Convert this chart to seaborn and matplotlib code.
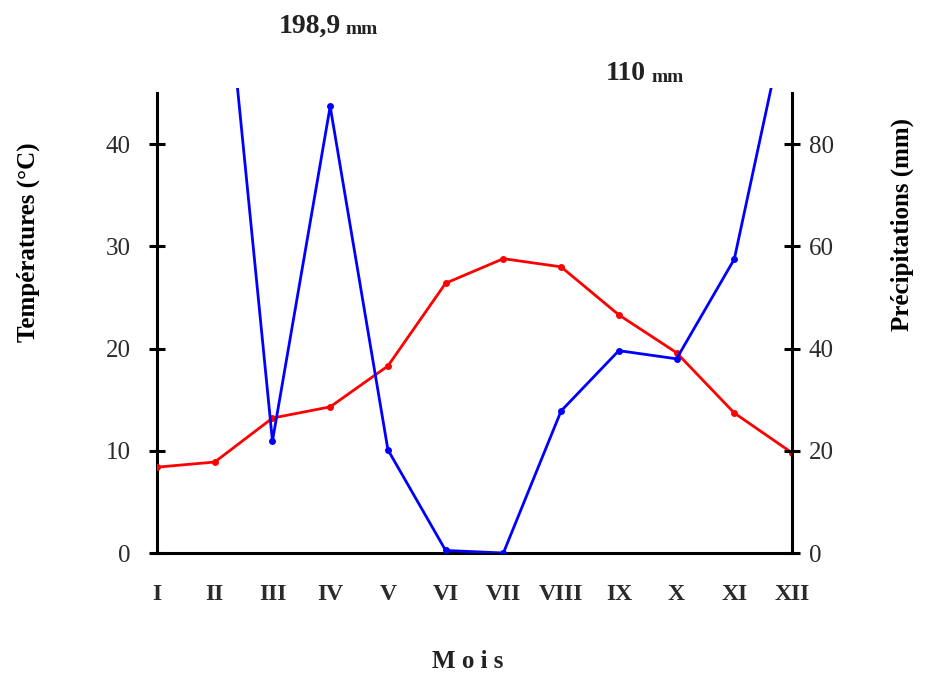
import matplotlib
matplotlib.use("Agg")
import matplotlib.pyplot as plt
import seaborn as sns
import pandas as pd

sns.set_style("white")
plt.rcParams["font.family"] = ["Liberation Serif", "DejaVu Serif"]

mois = ["I", "II", "III", "IV", "V", "VI", "VII", "VIII", "IX", "X", "XI", "XII"]
temperature = [8.4, 8.9, 13.2, 14.3, 18.3, 26.4, 28.8, 28.0, 23.3, 19.6, 13.7, 9.8]
precipitation = [198.9, 136.0, 21.9, 87.4, 20.2, 0.5, 0.0, 27.8, 39.6, 38.0, 57.5, 110.0]

df = pd.DataFrame({
    "idx": range(len(mois)),
    "mois": mois,
    "temp": temperature,
    "prec": precipitation,
})

W, H = 941, 682
fig = plt.figure(figsize=(W / 100, H / 100), dpi=100)
ax = fig.add_axes([157 / W, 1 - 553 / H, (792 - 157) / W, (553 - 88) / H])
ax2 = ax.twinx()

sns.lineplot(data=df, x="idx", y="temp", ax=ax, color="#ff0000", lw=2.0,
             marker="o", markersize=5, markeredgewidth=0, zorder=3)
sns.lineplot(data=df, x="idx", y="prec", ax=ax2, color="#0000ff", lw=2.0,
             marker="o", markersize=5, markeredgewidth=0, zorder=3)

ax.set_xlim(0, len(mois) - 1)
ax.set_ylim(0, 45.5)
ax2.set_ylim(0, 91)
ax.set_xticks(df["idx"])
ax.set_xticklabels(mois, fontsize=17, fontweight="bold", color="#2a2a2a")
ax.set_yticks([0, 10, 20, 30, 40])
ax2.set_yticks([0, 20, 40, 60, 80])

for a in (ax, ax2):
    a.set_facecolor("none")
    a.spines["top"].set_visible(False)
    for s in ("left", "right", "bottom"):
        a.spines[s].set_linewidth(2.2)
        a.spines[s].set_color("black")
    a.tick_params(axis="both", direction="inout", length=12, width=2.2,
                  labelsize=18, colors="black", labelcolor="#2a2a2a")
ax.spines["right"].set_visible(False)
ax2.spines["left"].set_visible(False)
ax2.spines["bottom"].set_visible(False)
ax.spines["left"].set_bounds(0, 45)
ax2.spines["right"].set_bounds(0, 90)
ax.tick_params(axis="x", pad=16, labelsize=17)
ax.tick_params(axis="y", pad=13)
ax2.tick_params(axis="y", pad=6)
ax.set_xlabel("")
ax.set_ylabel("")
ax2.set_ylabel("")


def px(x, y):
    return x / W, 1 - y / H


fig.text(*px(468, 662), "M o i s", ha="center", va="center",
         fontsize=18, fontweight="bold", color="#222222")
fig.text(*px(28, 242), "Températures (°C)", rotation=90, ha="center",
         va="center", fontsize=18, fontweight="bold", color="black")
fig.text(*px(902, 225), "Précipitations (mm)", rotation=90, ha="center",
         va="center", fontsize=18, fontweight="bold", color="black")

fig.text(*px(341, 26), "198,9", ha="right", va="center",
         fontsize=20, fontweight="bold", color="#222222")
fig.text(*px(345, 29), "mm", ha="left", va="center",
         fontsize=14, fontweight="bold", color="#222222")
fig.text(*px(646, 74), "110", ha="right", va="center",
         fontsize=20, fontweight="bold", color="#222222")
fig.text(*px(651, 77), "mm", ha="left", va="center",
         fontsize=14, fontweight="bold", color="#222222")

fig.savefig("out.png", dpi=100, facecolor="white")
